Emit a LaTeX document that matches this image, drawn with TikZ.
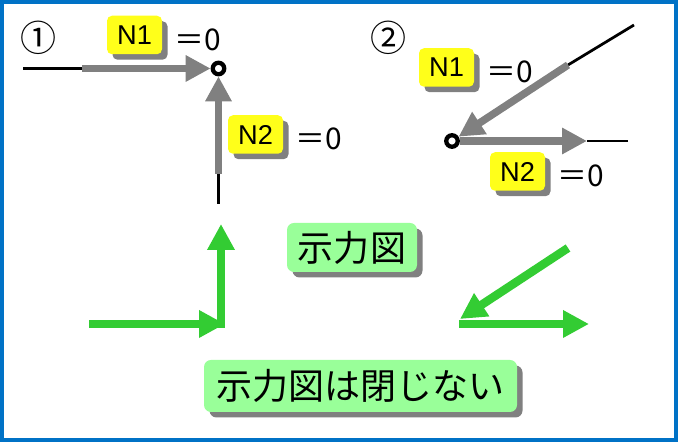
\documentclass[tikz,border=0pt]{standalone}
\usepackage{fontspec}
\setmainfont{Liberation Sans}
\newfontfamily\cjk{Noto Sans CJK JP}
\usetikzlibrary{arrows.meta,positioning,shadows}
\definecolor{framecol}{HTML}{0072C6}
\definecolor{forcecol}{HTML}{808080}
\definecolor{polycol}{HTML}{33CC33}
\definecolor{tagcol}{HTML}{FFFF1A}
\definecolor{notecol}{HTML}{99FF99}
\tikzset{
    member/.style = {line width = 0.055cm, black},
    force/.style = {line width = 0.15cm, forcecol, -{Triangle[length = 0.5cm, width = 0.5cm]}},
    polyarrow/.style = {line width = 0.17cm, polycol, -{Triangle[length = 0.52cm, width = 0.52cm]}},
    joint/.style = {circle, draw = black, line width = 0.085cm, fill = white, minimum size = 0.23cm, inner sep = 0pt},
    boxshadow/.style = {drop shadow = {shadow xshift = 0.11cm, shadow yshift = -0.11cm, fill = forcecol, opacity = 1}},
    tag/.style = {boxshadow, fill = tagcol, rounded corners = 0.1cm, minimum width = 1.1cm, minimum height = 0.77cm, inner sep = 0pt, font = \fontsize{15.5}{17}\selectfont},
    zero/.style = {right = 0.24cm of #1, yshift = -0.09cm, inner sep = 0pt, font = \cjk\fontsize{17}{19}\selectfont},
    note/.style = {boxshadow, fill = notecol, rounded corners = 0.14cm, inner sep = 0pt, font = \cjk\fontsize{20.5}{25}\selectfont},
    casemark/.style = {inner sep = 0pt, font = \cjk\fontsize{20.5}{25}\selectfont}
}
\begin{document}
\begin{tikzpicture}
    \useasboundingbox (0,0) rectangle (13.56,8.84);
    \draw[framecol, line width = 0.08cm] (0.04,0.04) rectangle (13.52,8.80);

    \node[casemark] (caseA) at (0.78,8.08) {①};
    \node[joint] (jointA) at (4.37,7.47) {};
    \coordinate (tailA) at (0.46,7.47);
    \coordinate (baseA) at (1.64,7.47);
    \coordinate (tailB) at (4.37,4.76);
    \coordinate (baseB) at (4.37,5.36);
    \draw[member] (tailA) -- (baseA);
    \draw[force] (baseA) -- (jointA);
    \draw[member] (tailB) -- (baseB);
    \draw[force] (baseB) -- (jointA);
    \node[tag] (tagA) at (2.69,8.14) {N1};
    \node[zero = tagA] (zeroA) {＝0};
    \node[tag] (tagB) at (5.11,6.15) {N2};
    \node[zero = tagB] (zeroB) {＝0};

    \node[casemark] (caseB) at (7.78,8.08) {②};
    \node[joint] (jointB) at (9.04,6.02) {};
    \coordinate (tailC) at (12.68,8.34);
    \coordinate (baseC) at (11.36,7.54);
    \coordinate (tailD) at (12.56,6.02);
    \coordinate (baseD) at (11.74,6.02);
    \draw[member] (tailC) -- (baseC);
    \draw[force] (baseC) -- (jointB);
    \draw[member] (tailD) -- (baseD);
    \draw[force] (jointB) -- (baseD);
    \node[tag] (tagC) at (8.93,7.49) {N1};
    \node[zero = tagC] (zeroC) {＝0};
    \node[tag] (tagD) at (10.35,5.41) {N2};
    \node[zero = tagD] (zeroD) {＝0};

    \coordinate (polyA) at (1.78,2.36);
    \coordinate (cornerA) at (4.50,2.36);
    \coordinate (polyB) at (4.42,2.28);
    \coordinate (topA) at (4.42,4.36);
    \draw[polyarrow] (polyB) -- (topA);
    \draw[polyarrow] (polyA) -- (cornerA);

    \coordinate (polyC) at (11.36,3.88);
    \coordinate (cornerB) at (9.20,2.46);
    \coordinate (polyD) at (9.18,2.36);
    \coordinate (endD) at (11.78,2.36);
    \draw[polyarrow] (polyC) -- (cornerB);
    \draw[polyarrow] (polyD) -- (endD);

    \node[note, minimum width = 2.6cm, minimum height = 0.98cm] (noteA) at (7.04,3.89) {示力図};
    \node[note, minimum width = 6.26cm, minimum height = 1.04cm] (noteB) at (7.21,1.12) {示力図は閉じない};
\end{tikzpicture}
\end{document}
